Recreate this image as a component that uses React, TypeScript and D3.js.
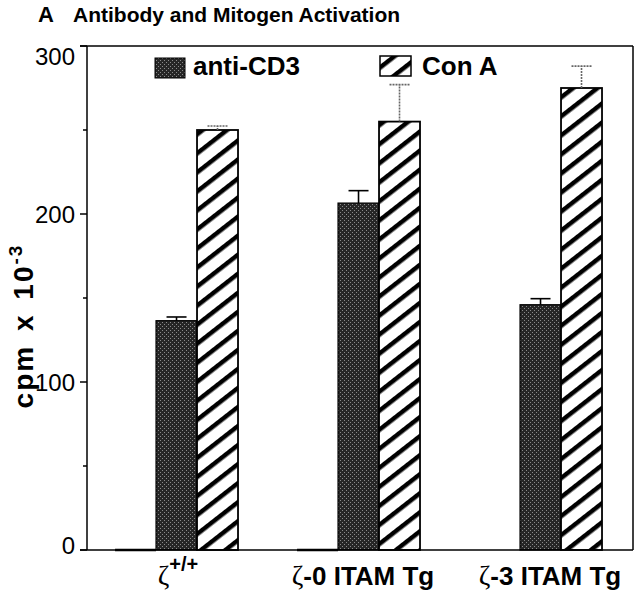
import React from 'react';
import * as d3 from 'd3';

// ---- data ----
const groups = ['g1', 'g2', 'g3'];
const groupGreek = ['ζ', 'ζ', 'ζ'];
const groupSup = ['+/+', '', ''];
const groupText = ['', '-0 ITAM Tg', '-3 ITAM Tg'];
const series = ['medium', 'anti-CD3', 'Con A'];
const mediumValues: (number | null)[] = [0, 0, null];
const antiCD3Values = [136.5, 206.5, 146];
const antiCD3Errors = [2.2, 7.4, 3.6];
const conAValues = [250, 255, 275];
const conAErrors = [2.4, 22, 13];
const yTicks = [0, 100, 200, 300];
const yMinorTicks = [50, 150, 250];
const legendLabels = ['anti-CD3', 'Con A'];

const FONT = '"Liberation Sans", Arial, Helvetica, sans-serif';
const SERIF = '"Liberation Serif", "DejaVu Serif", serif';

export default function App() {
  const left = 87, right = 633, top = 46, bottom = 550;
  const y = d3.scaleLinear().domain([0, 300]).range([bottom, top]);
  const x = d3.scaleBand<string>().domain(groups).range([left, right]).padding(0);
  const inner = d3.scaleBand<string>().domain(series).range([0, x.bandwidth()])
    .paddingInner(0).paddingOuter(0.72).align(0.475);
  const bw = inner.bandwidth();

  const errBar = (cx: number, v: number, e: number, dashed: boolean, key: string) => (
    <g key={key} stroke={dashed ? '#666' : '#000'} strokeWidth={1.6}
       strokeDasharray={dashed ? '2,1' : undefined}>
      <line x1={cx} x2={cx} y1={y(v)} y2={y(v + e)} />
      <line x1={cx - 10} x2={cx + 10} y1={y(v + e)} y2={y(v + e)} />
    </g>
  );

  return (
    <svg width={639} height={597} style={{ position: 'absolute', left: 0, top: 0, background: '#fff' }}
         fontFamily={FONT}>
      <defs>
        <pattern id="stipple" width={4} height={4} patternUnits="userSpaceOnUse">
          <rect width={4} height={4} fill="#262626" />
          <rect x={0} y={0} width={1} height={1} fill="#8a8a8a" />
          <rect x={2} y={2} width={1} height={1} fill="#8a8a8a" />
        </pattern>
        <pattern id="hatch" width={15} height={15} patternUnits="userSpaceOnUse"
                 patternTransform="rotate(-38)">
          <rect width={15} height={15} fill="#fff" />
          <rect width={15} height={4.5} fill="#000" />
        </pattern>
      </defs>

      {/* title */}
      <text x={38} y={22} fontSize={22} fontWeight="bold">A</text>
      <text x={73} y={22} fontSize={21} fontWeight="bold">Antibody and Mitogen Activation</text>

      {/* y axis title */}
      <text transform={`translate(33,${326}) rotate(-90)`} textAnchor="middle" fontSize={28}
            fontWeight="bold" letterSpacing={2} wordSpacing={4}>
        cpm x 10<tspan dy={-11} fontSize={19}>-3</tspan>
      </text>

      {/* bars */}
      {groups.map((g, i) => {
        const gx = x(g)!;
        const mx = gx + inner('medium')!;
        const ax = gx + inner('anti-CD3')!;
        const cx = gx + inner('Con A')!;
        return (
          <g key={g}>
            {mediumValues[i] !== null && (
              <line x1={mx} x2={mx + bw} y1={y(mediumValues[i] as number)} y2={y(mediumValues[i] as number)}
                    stroke="#000" strokeWidth={2.5} />
            )}
            <rect x={ax} y={y(antiCD3Values[i])} width={bw} height={y(0) - y(antiCD3Values[i])}
                  fill="url(#stipple)" stroke="#000" strokeWidth={1.2} />
            <rect x={cx} y={y(conAValues[i])} width={bw} height={y(0) - y(conAValues[i])}
                  fill="url(#hatch)" stroke="#000" strokeWidth={1.8} />
            {errBar(ax + bw / 2, antiCD3Values[i], antiCD3Errors[i], false, 'ea' + i)}
            {errBar(cx + bw / 2, conAValues[i], conAErrors[i], true, 'ec' + i)}
          </g>
        );
      })}

      {/* frame */}
      <g stroke="#000" strokeWidth={1.5} fill="none">
        <line x1={left} x2={left} y1={top} y2={bottom} />
        <line x1={left - 7} x2={right} y1={top} y2={top} />
        <line x1={right} x2={right} y1={top} y2={bottom} />
        <line x1={left - 7} x2={right} y1={bottom} y2={bottom} />
        {yTicks.map(t => <line key={t} x1={left - 7} x2={left} y1={y(t)} y2={y(t)} />)}
        {yMinorTicks.map(t => <line key={t} x1={left - 4} x2={left} y1={y(t)} y2={y(t)} />)}
      </g>
      {yTicks.map((t, i) => (
        <text key={t} x={75} y={y(t)} dy={i === yTicks.length - 1 ? 19 : i === 0 ? 4 : 8.5}
              textAnchor="end" fontSize={24}>{t}</text>
      ))}

      {/* legend */}
      <rect x={155} y={58} width={30} height={20} fill="url(#stipple)" stroke="#000" strokeWidth={1} />
      <text x={193} y={75} fontSize={26} fontWeight="bold">{legendLabels[0]}</text>
      <rect x={380} y={56} width={31} height={20} fill="url(#hatch)" stroke="#000" strokeWidth={1.5} />
      <text x={422} y={75} fontSize={26} fontWeight="bold">{legendLabels[1]}</text>

      {/* x labels */}
      {groups.map((g, i) => (
        <text key={g} x={x(g)! + x.bandwidth() / 2 + (i === 2 ? 8 : i === 1 ? 3 : 0)} y={585}
              textAnchor="middle" fontSize={26} fontWeight="bold">
          <tspan fontFamily={SERIF} fontWeight="normal" fontSize={28}>{groupGreek[i]}</tspan>
          {groupSup[i] && <tspan dy={-14} fontSize={20}>{groupSup[i]}</tspan>}
          {groupText[i] && <tspan>{groupText[i]}</tspan>}
        </text>
      ))}
    </svg>
  );
}
